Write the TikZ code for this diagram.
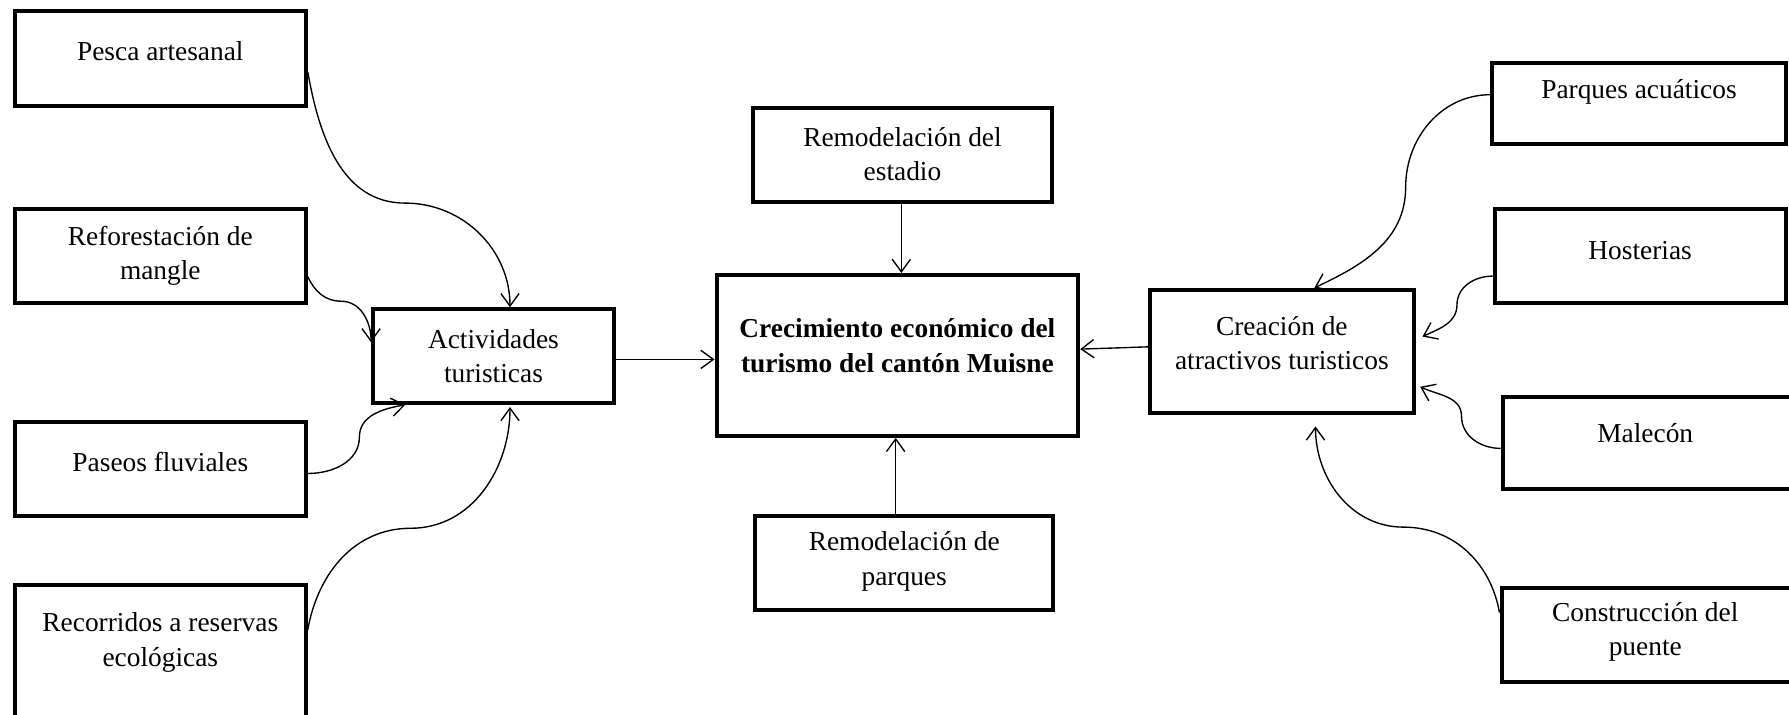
\documentclass[tikz,border=0pt]{standalone}
\usepackage{fontspec}
\setmainfont{Liberation Serif}
\usetikzlibrary{arrows.meta}
\tikzset{
  box/.style={draw, line width=3.5pt, rectangle, inner sep=0pt},
  txt/.style={font=\fontsize{24}{30}\selectfont, align=center, inner sep=0pt},
  conn/.style={line width=1.2pt, -{Straight Barb[length=11pt,width=16pt,line width=1.2pt]}}
}
\begin{document}
\begin{tikzpicture}[x=1pt,y=1pt]
\useasboundingbox (0,0) rectangle (1568,-626);
% left column
\node[box, minimum width=255pt, minimum height=83pt,
  label={[txt,yshift=7pt]center:Pesca artesanal}] (pesca) at (140.5,-51.5) {};
\node[box, minimum width=255pt, minimum height=83pt,
  label={[txt,yshift=0pt]center:{Reforestación de\\mangle}}] (refo) at (140.5,-224.5) {};
\node[box, minimum width=255pt, minimum height=82pt,
  label={[txt,yshift=6pt]center:Paseos fluviales}] (paseos) at (140.5,-411) {};
\node[box, minimum width=255pt, minimum height=127pt,
  label={[txt,yshift=13.5pt]center:{Recorridos a reservas\\ecológicas}}] (recorr) at (140.5,-576.5) {};
% actividades
\node[box, minimum width=211pt, minimum height=82pt,
  label={[txt]center:{Actividades\\turisticas}}] (activ) at (432.5,-312) {};
% center column
\node[box, minimum width=262pt, minimum height=82pt,
  label={[txt,yshift=1pt]center:{Remodelación del\\estadio}}] (estadio) at (791,-136) {};
\node[box, minimum width=317pt, minimum height=141pt,
  label={[txt,yshift=8.5pt]center:{\textbf{Crecimiento económico del}\\\textbf{turismo del cantón Muisne}}}] (crec) at (786.5,-311.5) {};
\node[box, minimum width=261pt, minimum height=83pt,
  label={[txt,yshift=1.5pt]center:{Remodelación de\\parques}}] (remparq) at (792.5,-493.5) {};
% creacion
\node[box, minimum width=231pt, minimum height=108pt,
  label={[txt,yshift=7pt]center:{Creación de\\atractivos turisticos}}] (creac) at (1123.5,-308) {};
% right column
\node[box, minimum width=257pt, minimum height=71pt,
  label={[txt,yshift=10pt]center:Parques acuáticos}] (pacuat) at (1436.5,-90.5) {};
\node[box, minimum width=255pt, minimum height=83pt,
  label={[txt,yshift=4.5pt]center:Hosterias}] (hoster) at (1437.5,-224.5) {};
\node[box, minimum width=254pt, minimum height=81pt,
  label={[txt,yshift=8.5pt,xshift=-2pt]center:Malecón}] (malecon) at (1444,-388.5) {};
\node[box, minimum width=255pt, minimum height=83pt,
  label={[txt,yshift=2.5pt,xshift=-1.5pt]center:{Construcción del\\puente}}] (constr) at (1443.5,-556.5) {};
% connectors left
\draw[conn] ([yshift=-11.5pt]pesca.east) to[out=-80,in=180] (355,-178) to[out=0,in=90] ([xshift=14.5pt]activ.north);
\draw[conn] ([yshift=-18pt]refo.east) to[out=-65,in=180] (299,-264) to[out=0,in=90] ([yshift=12pt]activ.west);
\draw[conn] ([yshift=-4pt]paseos.east) to[out=0,in=-90] (315,-383) to[out=90,in=190] ([xshift=30pt]activ.south west);
\draw[conn] ([yshift=24.5pt]recorr.east) to[out=80,in=180] (360,-463) to[out=0,in=-90] ([xshift=14.5pt,yshift=-2pt]activ.south);
% connectors center
\draw[conn] ([yshift=-3pt]activ.east) -- ([yshift=-3.5pt]crec.west);
\draw[conn] ([xshift=-1pt]estadio.south) -- ([xshift=-1pt]estadio.south |- crec.north);
\draw[conn] ([xshift=-7.5pt]remparq.north) -- ([xshift=-7.5pt]remparq.north |- crec.south);
\draw[conn] ([yshift=4pt]creac.west) -- ([yshift=5.5pt]crec.east);
% connectors right
\draw[conn] ([yshift=7.5pt]pacuat.west) to[out=180,in=90] (1232,-164) to[out=-90,in=25] ([xshift=28.5pt]creac.north);
\draw[conn] ([yshift=-17.5pt]hoster.west) to[out=180,in=90] (1277,-267) to[out=-90,in=25] ([xshift=6pt,yshift=13pt]creac.east);
\draw[conn] ([yshift=-4.5pt]malecon.west) to[out=180,in=-90] (1281,-365) to[out=90,in=-25] ([xshift=4pt,yshift=-31pt]creac.east);
\draw[conn] ([yshift=19.5pt]constr.west) to[out=100,in=0] (1230,-462) to[out=180,in=-90] ([xshift=29.5pt,yshift=-10pt]creac.south);
\end{tikzpicture}
\end{document}
